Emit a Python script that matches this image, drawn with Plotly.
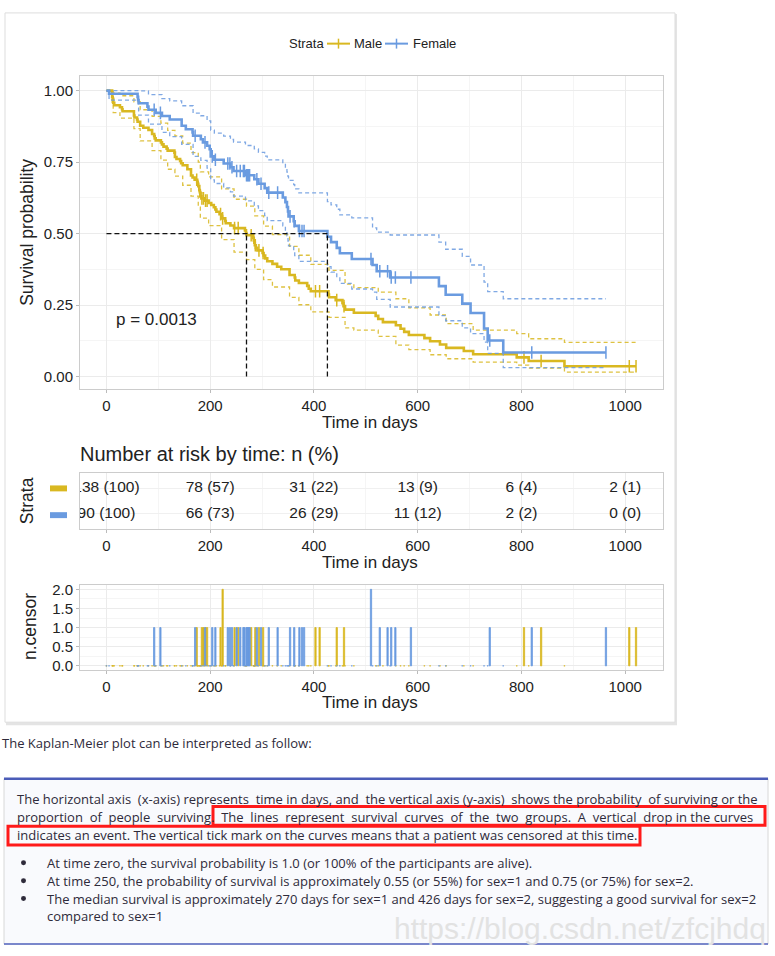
import plotly.graph_objects as go

W, H = 775, 956

# Kaplan-Meier steps (time in days, survival, n censored at that time)
male_time = [0, 11, 12, 13, 15, 26, 30, 31, 53, 54, 59, 60, 65, 71, 81, 88, 92, 93, 95, 105,
             107, 110, 116, 118, 131, 132, 135, 142, 144, 147, 156, 163, 166, 170, 174, 175, 176, 177, 179, 180,
             181, 183, 184, 187, 189, 191, 194, 197, 202, 207, 210, 212, 218, 220, 222, 223, 224, 229, 230, 239,
             246, 247, 254, 267, 269, 270, 279, 283, 284, 285, 286, 287, 288, 291, 294, 301, 302, 303, 306, 310,
             320, 329, 337, 353, 363, 364, 371, 387, 390, 394, 403, 411, 428, 429, 442, 444, 455, 457, 458, 460,
             477, 519, 524, 533, 558, 567, 574, 583, 613, 624, 643, 655, 689, 707, 791, 805, 814, 838, 883, 1008,
             1021]
male_surv = [1.0, 0.978, 0.971, 0.957, 0.949, 0.942, 0.935, 0.928, 0.913, 0.906, 0.899, 0.891, 0.877, 0.870, 0.862, 0.848, 0.841, 0.833, 0.826, 0.819,
             0.812, 0.804, 0.797, 0.790, 0.783, 0.768, 0.761, 0.754, 0.746, 0.739, 0.725, 0.703, 0.696, 0.688, 0.688, 0.681, 0.674, 0.666, 0.652, 0.645,
             0.630, 0.623, 0.623, 0.623, 0.615, 0.615, 0.615, 0.607, 0.600, 0.592, 0.584, 0.576, 0.568, 0.568, 0.561, 0.553, 0.553, 0.544, 0.536, 0.528,
             0.519, 0.519, 0.519, 0.511, 0.502, 0.494, 0.494, 0.485, 0.476, 0.468, 0.459, 0.459, 0.450, 0.441, 0.441, 0.432, 0.432, 0.423, 0.413, 0.403,
             0.394, 0.384, 0.375, 0.355, 0.346, 0.336, 0.327, 0.317, 0.307, 0.298, 0.298, 0.298, 0.287, 0.277, 0.267, 0.267, 0.256, 0.246, 0.246, 0.234,
             0.223, 0.212, 0.201, 0.190, 0.179, 0.167, 0.156, 0.145, 0.134, 0.123, 0.112, 0.100, 0.089, 0.078, 0.067, 0.067, 0.054, 0.054, 0.036, 0.036,
             0.036]
male_ncensor = [0, 0, 0, 0, 0, 0, 0, 0, 0, 0, 0, 0, 0, 0, 0, 0, 0, 0, 0, 0,
                0, 0, 0, 0, 0, 0, 0, 0, 0, 0, 0, 0, 0, 0, 1, 0, 0, 0, 0, 0,
                0, 0, 1, 1, 0, 1, 1, 0, 0, 0, 0, 0, 0, 1, 0, 0, 2, 0, 0, 0,
                0, 1, 1, 0, 0, 0, 1, 0, 0, 0, 0, 1, 0, 0, 1, 0, 1, 0, 0, 0,
                0, 0, 0, 0, 0, 0, 0, 0, 0, 0, 1, 1, 0, 0, 0, 1, 0, 0, 1, 0,
                0, 0, 0, 0, 0, 0, 0, 0, 0, 0, 0, 0, 0, 0, 0, 1, 0, 1, 0, 1,
                1]

female_time = [0, 5, 60, 61, 62, 79, 81, 92, 95, 104, 107, 122, 145, 153, 166, 167, 171, 182, 186, 190,
               194, 199, 201, 204, 208, 210, 226, 234, 238, 239, 242, 245, 251, 258, 264, 266, 268, 270, 272, 274,
               276, 285, 290, 293, 298, 305, 310, 313, 330, 340, 345, 348, 350, 351, 354, 361, 362, 363, 371, 372,
               377, 381, 426, 433, 444, 450, 473, 510, 513, 521, 527, 542, 547, 549, 557, 587, 641, 654, 686, 702,
               728, 735, 739, 765, 820, 963]
female_surv = [1.0, 0.989, 0.978, 0.967, 0.956, 0.944, 0.933, 0.933, 0.922, 0.922, 0.911, 0.899, 0.877, 0.865, 0.854, 0.842, 0.842, 0.830, 0.819, 0.819,
               0.807, 0.795, 0.770, 0.770, 0.758, 0.758, 0.745, 0.745, 0.745, 0.732, 0.732, 0.719, 0.719, 0.719, 0.719, 0.719, 0.704, 0.704, 0.704, 0.704,
               0.704, 0.690, 0.690, 0.674, 0.674, 0.659, 0.643, 0.643, 0.643, 0.626, 0.610, 0.593, 0.577, 0.560, 0.560, 0.543, 0.543, 0.527, 0.509, 0.509,
               0.509, 0.509, 0.489, 0.470, 0.450, 0.431, 0.411, 0.411, 0.390, 0.368, 0.368, 0.368, 0.346, 0.346, 0.346, 0.346, 0.316, 0.286, 0.255, 0.222,
               0.168, 0.126, 0.126, 0.084, 0.084, 0.084]
female_ncensor = [0, 0, 0, 0, 0, 0, 0, 1, 0, 1, 0, 0, 0, 0, 0, 0, 1, 0, 0, 1,
                  0, 0, 0, 1, 0, 1, 0, 1, 1, 0, 1, 0, 1, 1, 1, 1, 0, 1, 1, 1,
                  1, 0, 1, 0, 1, 0, 0, 1, 1, 0, 0, 0, 0, 0, 1, 0, 1, 0, 0, 1,
                  1, 1, 0, 0, 0, 0, 0, 2, 0, 0, 1, 1, 0, 1, 1, 1, 0, 0, 0, 0,
                  0, 0, 1, 0, 1, 1]

# confidence bands (coarse steps)
male_ci_time = [0, 11, 13, 26, 53, 65, 88, 105, 118, 132, 147, 163, 177, 181, 197, 222, 246, 270, 286, 303,
                320, 353, 371, 394, 429, 460, 477, 524, 558, 583, 624, 655, 707, 791, 814, 883, 1021]
male_upper = [1.0, 1.0, 0.991, 0.982, 0.961, 0.933, 0.910, 0.886, 0.861, 0.842, 0.816, 0.783, 0.750, 0.716, 0.698, 0.656, 0.620, 0.596, 0.562, 0.526,
              0.496, 0.455, 0.424, 0.392, 0.371, 0.323, 0.311, 0.295, 0.272, 0.240, 0.215, 0.185, 0.162, 0.150, 0.132, 0.119, 0.119]
male_lower = [1.0, 0.954, 0.923, 0.904, 0.867, 0.824, 0.790, 0.757, 0.725, 0.701, 0.669, 0.631, 0.592, 0.554, 0.528, 0.479, 0.435, 0.409, 0.375, 0.339,
              0.313, 0.277, 0.251, 0.226, 0.207, 0.170, 0.162, 0.140, 0.110, 0.094, 0.076, 0.062, 0.050, 0.040, 0.029, 0.015, 0.015]

female_ci_time = [0, 5, 62, 81, 107, 122, 145, 167, 182, 194, 201, 208, 226, 239, 245, 268, 285, 293, 305, 310,
                  340, 345, 348, 350, 351, 361, 363, 371, 426, 433, 444, 450, 473, 513, 521, 547, 641, 654, 686, 702,
                  728, 735, 765, 963]
female_upper = [1.0, 1.0, 0.999, 0.986, 0.972, 0.964, 0.947, 0.921, 0.912, 0.894, 0.862, 0.851, 0.841, 0.829, 0.820, 0.808, 0.796, 0.784, 0.771, 0.758,
                0.745, 0.730, 0.715, 0.700, 0.686, 0.671, 0.656, 0.642, 0.612, 0.600, 0.585, 0.565, 0.555, 0.520, 0.505, 0.495, 0.470, 0.445, 0.420, 0.390,
                0.330, 0.297, 0.272, 0.272]
female_lower = [1.0, 0.967, 0.914, 0.883, 0.854, 0.839, 0.812, 0.770, 0.756, 0.729, 0.688, 0.675, 0.660, 0.646, 0.631, 0.614, 0.597, 0.580, 0.563, 0.545,
                0.527, 0.510, 0.492, 0.474, 0.457, 0.439, 0.423, 0.403, 0.384, 0.365, 0.345, 0.326, 0.306, 0.295, 0.270, 0.243, 0.213, 0.195, 0.170, 0.150,
                0.120, 0.081, 0.031, 0.031]

median_male = 270
median_female = 426
p_value = "p = 0.0013"

# number at risk table
risk_times = [0, 200, 400, 600, 800, 1000]
male_risk_n = [138, 78, 31, 13, 6, 2]
male_risk_pct = [100, 57, 22, 9, 4, 1]
female_risk_n = [90, 66, 26, 11, 2, 0]
female_risk_pct = [100, 73, 29, 12, 2, 0]

MALE_COL = "#D9B821"
FEMALE_COL = "#6A9BE0"
FONT = "Liberation Sans, Arial, sans-serif"
TXT = "Open Sans, sans-serif"
NB = "\u00a0"


def fx(px):
    return px / W


def fy(py):
    return 1 - py / H


fig = go.Figure()

# survival curves with confidence bands
for name, t, s, nc, ct, up, lo, col in [
    ("Male", male_time, male_surv, male_ncensor, male_ci_time, male_upper, male_lower, MALE_COL),
    ("Female", female_time, female_surv, female_ncensor, female_ci_time, female_upper, female_lower, FEMALE_COL),
]:
    for band in (up, lo):
        fig.add_trace(go.Scatter(x=ct, y=band, mode="lines",
                                 line=dict(color=col, width=1.3, dash="4px,3px", shape="hv"),
                                 opacity=0.85, showlegend=False, xaxis="x", yaxis="y"))
    fig.add_trace(go.Scatter(x=t, y=s, mode="lines", line=dict(color=col, width=2.6, shape="hv"),
                             showlegend=False, xaxis="x", yaxis="y"))
    cx = [ti for ti, c in zip(t, nc) if c > 0]
    cy = [si for si, c in zip(s, nc) if c > 0]
    fig.add_trace(go.Scatter(x=cx, y=cy, mode="markers",
                             marker=dict(symbol="line-ns-open", size=9, color=col, line=dict(color=col, width=1.5)),
                             showlegend=False, xaxis="x", yaxis="y"))

# median survival lines
fig.add_trace(go.Scatter(x=[0, median_female], y=[0.5, 0.5], mode="lines",
                         line=dict(color="#111111", width=1.3, dash="5px,3px"), showlegend=False))
for m in (median_male, median_female):
    fig.add_trace(go.Scatter(x=[m, m], y=[0, 0.5], mode="lines",
                             line=dict(color="#111111", width=1.3, dash="5px,3px"), showlegend=False))

# risk table
for yrow, n, pct in [(2, male_risk_n, male_risk_pct), (1, female_risk_n, female_risk_pct)]:
    fig.add_trace(go.Scatter(x=risk_times, y=[yrow] * len(risk_times), mode="text",
                             text=[f"{a} ({b})" for a, b in zip(n, pct)],
                             textfont=dict(family=FONT, size=15.5, color="#222222"),
                             cliponaxis=True, showlegend=False, xaxis="x2", yaxis="y2"))

# number of censored subjects
for t, nc, col in [(male_time, male_ncensor, MALE_COL), (female_time, female_ncensor, FEMALE_COL)]:
    fig.add_trace(go.Bar(x=t, y=nc, width=2.5, marker=dict(color=col, line=dict(color=col, width=0.8)),
                         showlegend=False, xaxis="x3", yaxis="y3"))

xdom = [fx(80), fx(663)]
major = [0, 200, 400, 600, 800, 1000]
minor = [100, 300, 500, 700, 900]
TICKFONT = dict(family=FONT, size=15, color="#222222")


def xax(anchor):
    return dict(domain=xdom, range=[-51, 1073], anchor=anchor, tickvals=major, tickfont=TICKFONT,
                showgrid=True, gridcolor="#ebebeb", gridwidth=1,
                minor=dict(tickvals=minor, showgrid=True, gridcolor="#f5f5f5", ticks=""),
                showline=True, mirror=True, linecolor="#cccccc", linewidth=1,
                ticks="outside", ticklen=3, tickcolor="#bbbbbb", zeroline=False)


fig.update_layout(
    width=W, height=H,
    margin=dict(l=0, r=0, t=0, b=0),
    paper_bgcolor="white", plot_bgcolor="white",
    barmode="overlay", showlegend=False,
    xaxis=xax("y"),
    yaxis=dict(domain=[fy(388), fy(72)], range=[-0.045, 1.05], tickvals=[0, 0.25, 0.5, 0.75, 1],
               ticktext=["0.00", "0.25", "0.50", "0.75", "1.00"], tickfont=TICKFONT,
               showgrid=True, gridcolor="#ebebeb",
               minor=dict(tickvals=[0.125, 0.375, 0.625, 0.875], showgrid=True, gridcolor="#f5f5f5", ticks=""),
               showline=True, mirror=True, linecolor="#cccccc", ticks="outside", ticklen=3,
               tickcolor="#bbbbbb", zeroline=False),
    xaxis2=xax("y2"),
    yaxis2=dict(domain=[fy(529), fy(472)], range=[0.42, 2.6], tickvals=[1, 2], showticklabels=False,
                showgrid=True, gridcolor="#f0f0f0", showline=True, mirror=True, linecolor="#cccccc",
                zeroline=False),
    xaxis3=xax("y3"),
    yaxis3=dict(domain=[fy(671), fy(586)], range=[-0.1, 2.1], tickvals=[0, 0.5, 1, 1.5, 2],
                tickformat=".1f", tickfont=TICKFONT,
                showgrid=True, gridcolor="#ebebeb",
                minor=dict(tickvals=[0.25, 0.75, 1.25, 1.75], showgrid=True, gridcolor="#f5f5f5", ticks=""),
                showline=True, mirror=True, linecolor="#cccccc", ticks="outside", ticklen=3,
                tickcolor="#bbbbbb", zeroline=False),
)

TC = "#2e2a3a"
shapes = [
    # card with a soft shadow
    dict(type="rect", xref="paper", yref="paper", x0=fx(6), x1=fx(677), y0=fy(727), y1=fy(9),
         fillcolor="#e4e4e4", line=dict(width=0), layer="below"),
    dict(type="rect", xref="paper", yref="paper", x0=fx(5), x1=fx(675), y0=fy(724), y1=fy(8),
         fillcolor="white", line=dict(color="#dddddd", width=1), layer="below"),
    # text box below
    dict(type="rect", xref="paper", yref="paper", x0=fx(4), x1=fx(768), y0=fy(948), y1=fy(781),
         fillcolor="#f9fafd", line=dict(color="#d8d8d8", width=1), layer="below"),
    dict(type="line", xref="paper", yref="paper", x0=fx(4), x1=fx(768), y0=fy(781), y1=fy(781),
         line=dict(color="#4b5cb8", width=2.5)),
    dict(type="line", xref="paper", yref="paper", x0=fx(4), x1=fx(768), y0=fy(948), y1=fy(948),
         line=dict(color="#5566c0", width=1.5)),
    # red highlight boxes
    dict(type="rect", xref="paper", yref="paper", x0=fx(213), x1=fx(765), y0=fy(828), y1=fy(809),
         line=dict(color="#ff1a1a", width=3)),
    dict(type="rect", xref="paper", yref="paper", x0=fx(8), x1=fx(640), y0=fy(848), y1=fy(829),
         line=dict(color="#ff1a1a", width=3)),
    # risk table colour keys
    dict(type="rect", xref="paper", yref="paper", x0=fx(50), x1=fx(67), y0=fy(491), y1=fy(485),
         fillcolor=MALE_COL, line=dict(width=0)),
    dict(type="rect", xref="paper", yref="paper", x0=fx(50), x1=fx(67), y0=fy(518), y1=fy(512),
         fillcolor=FEMALE_COL, line=dict(width=0)),
]

# bullet dots of the list
for yb in (866, 884, 902):
    shapes.append(dict(type="circle", xref="paper", yref="paper", x0=fx(21), x1=fx(26),
                       y0=fy(yb + 2.5), y1=fy(yb - 2.5), fillcolor=TC, line=dict(width=0)))

# legend keys at top
for x0, col in [(327, MALE_COL), (385, FEMALE_COL)]:
    shapes.append(dict(type="line", xref="paper", yref="paper", x0=fx(x0), x1=fx(x0 + 23), y0=fy(39), y1=fy(39),
                       line=dict(color=col, width=2)))
    shapes.append(dict(type="line", xref="paper", yref="paper", x0=fx(x0 + 11.5), x1=fx(x0 + 11.5),
                       y0=fy(44), y1=fy(34), line=dict(color=col, width=1.5)))
fig.update_layout(shapes=shapes)


def note(text, x, y, size, anchor="left", font=FONT, color="#222222", angle=0):
    fig.add_annotation(text=text, x=fx(x), y=fy(y), xref="paper", yref="paper", showarrow=False,
                       xanchor=anchor, yanchor="middle", textangle=angle,
                       font=dict(family=font, size=size, color=color))


note("Strata", 287, 39, 13)
note("Male", 352, 39, 13)
note("Female", 411, 39, 13)
note("Time in days", 370, 421, 17, "center")
note("Time in days", 370, 563, 17, "center")
note("Time in days", 370, 704, 17, "center")
note("Survival probability", 27, 230, 17.5, "center", angle=-90)
note("Strata", 27, 500, 17.5, "center", angle=-90)
note("n.censor", 30, 628, 17.5, "center", angle=-90)
note("Number at risk by time: n (%)", 78, 453, 20)
fig.add_annotation(text=p_value, x=15, y=0.2, xref="x", yref="y", showarrow=False, xanchor="left",
                   font=dict(family=FONT, size=17, color="#222222"))

# page text; non-breaking spaces widen the gaps like the justified lines
TS = 13
line1 = ("The horizontal axis" + NB + " (x-axis) represents" + NB + " time in days, and" + NB +
         " the vertical axis (y-axis)" + NB + " shows the probability" + NB + " of surviving or the")
line2 = ((" " + NB).join("proportion of people surviving. The lines represent survival "
                         "curves of the two groups. A vertical drop".split(" ")) + " in the curves")
note("The Kaplan-Meier plot can be interpreted as follow:", 0, 745, TS, font=TXT, color=TC)
note(line1, 15, 802, TS, font=TXT, color=TC)
note(line2, 15, 820, TS, font=TXT, color=TC)
note("indicates an event. The vertical tick mark on the curves means that a patient was censored at this time.",
     15, 838, TS, font=TXT, color=TC)
bullets = [
    (866, "At time zero, the survival probability is 1.0 (or 100% of the participants are alive)."),
    (884, "At time 250, the probability of survival is approximately 0.55 (or 55%) for sex=1 and 0.75 (or 75%) for sex=2."),
    (902, "The median survival is approximately 270 days for sex=1 and 426 days for sex=2, suggesting a good survival for sex=2"),
]
for y, t in bullets:
    note(t, 45, y, TS, font=TXT, color=TC)
note("compared to sex=1", 45, 920, TS, font=TXT, color=TC)
note("https://blog.csdn.net/zfcjhdq", 768, 932, 30, "right", color="#e2e2e2")

fig.write_html("out.html", config={"displayModeBar": False},
               post_script="document.body.style.margin='0px';")
